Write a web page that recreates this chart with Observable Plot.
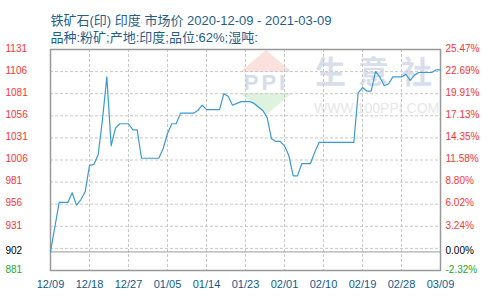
<!DOCTYPE html>
<html>
<head>
<meta charset="utf-8">
<script src="https://cdn.jsdelivr.net/npm/d3@7"></script>
<script src="https://cdn.jsdelivr.net/npm/@observablehq/plot@0.6"></script>
<style>
  html, body { margin: 0; padding: 0; background: #fff; }
  svg { display: block; }
</style>
</head>
<body>
<div id="chart"></div>
<script>
// ---- data ----
const titleText = "铁矿石(印) 印度 市场价 2020-12-09 - 2021-03-09";
const subtitleText = "品种:粉矿;产地:印度;品位:62%;湿吨:";
const startDate = "2020-12-09";
const endDate = "2021-03-09";
const prices = [
  902, 930, 958, 958, 958, 969, 955, 961, 970, 1000,
  1001, 1012, 1052, 1100, 1022, 1042, 1047, 1047, 1047, 1040,
  1040, 1008, 1008, 1008, 1008, 1008, 1019, 1036, 1047, 1047,
  1059, 1059, 1059, 1059, 1062, 1068, 1063, 1063, 1063, 1063,
  1081, 1078, 1068, 1070, 1072, 1072, 1072, 1070, 1066, 1062,
  1054, 1030, 1027, 1027, 1022, 1011, 988, 988, 1002, 1002,
  1002, 1015, 1026, 1026, 1026, 1026, 1026, 1026, 1026, 1026,
  1026, 1082, 1088, 1084, 1084, 1106, 1100, 1090, 1092, 1100,
  1100, 1100, 1103, 1096, 1102, 1105, 1105, 1105, 1105, 1108,
  1108
];
const xTickDates = ["2020-12-09","2020-12-18","2020-12-27","2021-01-05","2021-01-14",
  "2021-01-23","2021-02-01","2021-02-10","2021-02-19","2021-02-28","2021-03-09"];
const xTickLabels = ["12/09","12/18","12/27","01/05","01/14","01/23","02/01","02/10","02/19","02/28","03/09"];
const gridValues = [906, 931, 956, 981, 1006, 1031, 1056, 1081, 1106];
const baseValue = 902;
const yDomain = [881, 1131];
const leftTickValues = [1131, 1106, 1081, 1056, 1031, 1006, 981, 956, 931, 902, 881];
const leftTickLabels = ["1131","1106","1081","1056","1031","1006","981","956","931","902","881"];
const rightTickLabels = ["25.47%","22.69%","19.91%","17.13%","14.35%","11.58%","8.80%","6.02%","3.24%","0.00%","-2.32%"];

// ---- build tables ----
const t0 = new Date(startDate + "T00:00:00Z");
const series = prices.map((v, i) => ({date: d3.utcDay.offset(t0, i), value: v}));
const xTicks = xTickDates.map((d, i) => ({date: new Date(d + "T00:00:00Z"), label: xTickLabels[i]}));
const tickColor = v => v > baseValue ? "#ff3333" : v === baseValue ? "#000000" : "#22aa22";
const leftTicks = leftTickValues.map((v, i) => ({v, label: leftTickLabels[i], color: tickColor(v)}));
const rightTicks = leftTickValues.map((v, i) => ({v, label: rightTickLabels[i], color: tickColor(v)}));

const font = "'Liberation Sans', Arial, 'Noto Sans CJK SC', sans-serif";

const chart = Plot.plot({
  width: 490,
  height: 300,
  marginTop: 49,
  marginBottom: 30,
  marginLeft: 50,
  marginRight: 50,
  style: {fontFamily: font, background: "#fff"},
  x: {type: "utc", domain: [new Date(startDate + "T00:00:00Z"), new Date(endDate + "T00:00:00Z")], axis: null},
  y: {domain: yDomain, axis: null},
  color: {type: "identity"},
  marks: [
    Plot.ruleY(gridValues, {stroke: "#c8c8c8", strokeDasharray: "3,2"}),
    Plot.ruleX(xTicks.slice(1, -1), {x: "date", stroke: "#c8c8c8", strokeDasharray: "3,2"}),
    Plot.ruleY([baseValue], {stroke: "#999"}),
    Plot.frame({stroke: "#999", strokeWidth: 1.5}),
    Plot.line(series, {x: "date", y: "value", stroke: "#3a9ad9", strokeWidth: 1.2}),
    Plot.text(leftTicks, {y: "v", text: "label", fill: "color", frameAnchor: "left", dx: -45, dy: -1, textAnchor: "start", fontSize: 10}),
    Plot.text(rightTicks, {y: "v", text: "label", fill: "color", frameAnchor: "right", dx: 5, dy: -1, textAnchor: "start", fontSize: 10}),
    Plot.text(xTicks, {x: "date", text: "label", frameAnchor: "bottom", dy: 17, fill: "#0f5a8c", fontSize: 11}),
    Plot.text([titleText], {text: d => d, frameAnchor: "top-left", dy: -34, textAnchor: "start", fill: "#1f5e8c", fontSize: 13}),
    Plot.text([subtitleText], {text: d => d, frameAnchor: "top-left", dy: -17, textAnchor: "start", fill: "#1f5e8c", fontSize: 13})
  ]
});

// watermark (decorative), placed beneath the marks
const svg = d3.select(chart);
const wm = svg.insert("g", ":first-child").attr("class", "watermark").attr("text-anchor", "start");
wm.append("polygon").attr("points", "266,50 240,72 292,72").attr("fill", "#fbe1dd");
wm.append("polygon").attr("points", "240,93 292,93 266,115").attr("fill", "#dff1df");
wm.append("text").attr("x", 266).attr("y", 90).attr("text-anchor", "middle")
  .attr("font-size", 22).attr("font-weight", "bold").attr("font-family", font)
  .attr("fill", "#d6ddea").attr("letter-spacing", 3).text("PPI");
wm.append("text").attr("x", 315).attr("y", 83).attr("text-anchor", "start")
  .attr("font-size", 31).attr("font-weight", "bold").attr("font-family", "'Noto Sans CJK SC', sans-serif")
  .attr("fill", "#d9dfea").attr("letter-spacing", 12).text("生意社");
wm.append("text").attr("x", 314).attr("y", 113).attr("text-anchor", "start")
  .attr("font-size", 14).attr("font-family", font)
  .attr("fill", "#e6e6e6").text("WWW.100PPI.COM");
svg.insert("rect", ":first-child").attr("width", 490).attr("height", 300).attr("fill", "#fff");

document.getElementById("chart").appendChild(chart);
</script>
</body>
</html>
